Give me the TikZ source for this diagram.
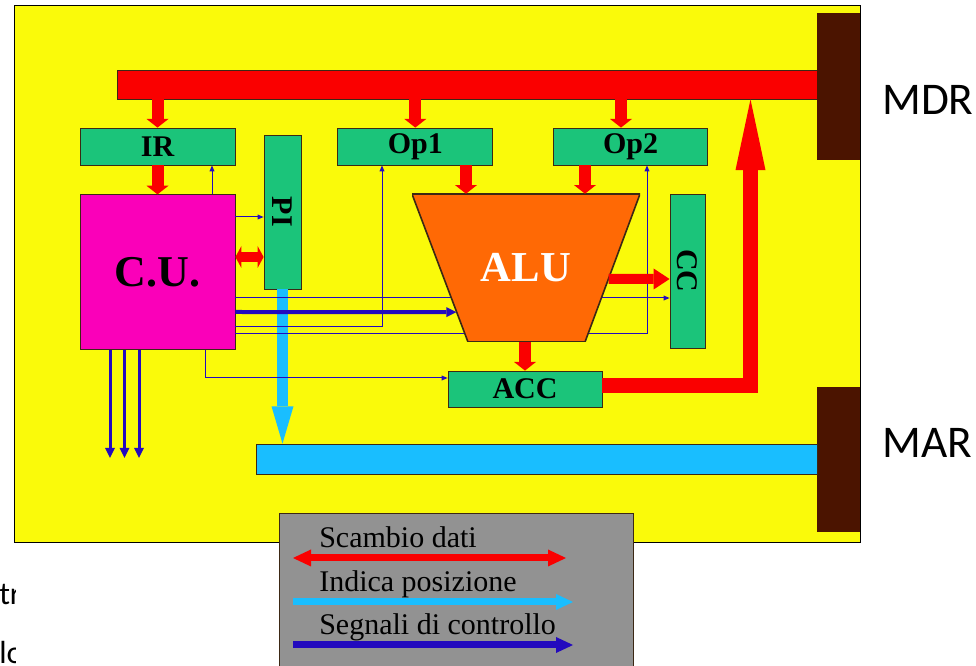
\documentclass[tikz,border=0pt]{standalone}
\usepackage{fontspec}
\setmainfont{Liberation Serif}
\newfontfamily\slidefont{Carlito}
\usetikzlibrary{positioning,arrows.meta,calc}

\definecolor{panelyellow}{RGB}{250,250,10}
\definecolor{busred}{RGB}{250,0,0}
\definecolor{regreen}{RGB}{27,196,122}
\definecolor{cumagenta}{RGB}{250,0,185}
\definecolor{aluorange}{RGB}{255,105,5}
\definecolor{addrcyan}{RGB}{25,190,255}
\definecolor{ctrlblue}{RGB}{35,10,190}
\definecolor{portbrown}{RGB}{75,20,0}
\definecolor{keygray}{RGB}{146,146,146}
\definecolor{edge}{RGB}{60,40,20}

\newcommand{\regfont}{\fontsize{22.5}{26}\selectfont\bfseries}
\newcommand{\keyfont}{\fontsize{22.5}{26}\selectfont}

\begin{document}
\begin{tikzpicture}[x=0.75pt, y=-0.75pt,
% first : the style of the scheme
    reg/.style={
        rectangle,
        draw=edge,
        line width=0.6pt,
        fill=regreen,
        inner sep=0pt,
        font=\regfont
    },
    bus/.style={rectangle, draw=edge, line width=0.6pt, inner sep=0pt},
    port/.style={rectangle, fill=portbrown, inner sep=0pt},
    alu/.style={
        rectangle,
        inner sep=0pt,
        minimum width=171pt,
        minimum height=111pt,
        text=white,
        font=\fontsize{32}{36}\selectfont\bfseries,
        path picture={
            \filldraw[fill=aluorange, draw=edge, line width=1.2pt]
                (path picture bounding box.north west)
                -- (path picture bounding box.north east)
                -- ([xshift=-41.25pt]path picture bounding box.south east)
                -- ([xshift=42pt]path picture bounding box.south west)
                -- cycle;
        }
    },
    load/.style={draw=busred, line width=9pt, -{Triangle[width=16.5pt,length=6.5pt,line width=0pt 0]}},
    swap/.style={draw=busred, line width=7.5pt,
        {Triangle[width=16.5pt,length=4.5pt,line width=0pt 0]}-{Triangle[width=16.5pt,length=4.5pt,line width=0pt 0]}},
    flag/.style={draw=busred, line width=7.5pt, -{Triangle[width=15.75pt,length=12pt,line width=0pt 0]}},
    writeback/.style={draw=busred, line width=11.25pt, -{Triangle[width=22.5pt,length=53pt,line width=0pt 0]}},
    addr/.style={draw=addrcyan, line width=8.25pt, -{Triangle[width=16.5pt,length=28pt,line width=0pt 0]}},
    ctrl/.style={draw=ctrlblue, line width=0.75pt, -{Triangle[width=3.8pt,length=4.5pt,line width=0pt 0]}},
    ctrlbold/.style={draw=ctrlblue, line width=3pt, -{Triangle[width=7.5pt,length=7.5pt,line width=0pt 0]}},
    ctrlout/.style={draw=ctrlblue, line width=2.25pt, -{Triangle[width=7.5pt,length=7.5pt,line width=0pt 0]}},
    keytext/.style={anchor=base west, inner sep=0pt, font=\keyfont},
    keydata/.style={draw=busred, line width=5.25pt,
        {Triangle[width=12.75pt,length=13.5pt,line width=0pt 0]}-{Triangle[width=12.75pt,length=13.5pt,line width=0pt 0]}},
    keyaddr/.style={draw=addrcyan, line width=5.25pt, -{Triangle[width=12pt,length=12.75pt,line width=0pt 0]}},
    keyctrl/.style={draw=ctrlblue, line width=5.25pt, -{Triangle[width=12pt,length=12.75pt,line width=0pt 0]}},
    side/.style={anchor=base west, inner sep=0pt, font=\slidefont\fontsize{34}{40}\selectfont}
]
\useasboundingbox (0,0) rectangle (976,666);
\fill[white] (0,0) rectangle (976,666);

% panel
\draw[fill=panelyellow, line width=0.6pt] (14,5) rectangle (860,542);

% buses and ports
\node[bus, fill=busred, minimum width=525pt, minimum height=21.75pt] (mdrbus) at (467,84.5) {};
\node[port, minimum width=32.25pt, minimum height=110.25pt] (mdr) at (838.5,86.5) {};
\node[port, minimum width=32.25pt, minimum height=108.75pt] (mar) at (838.5,459.5) {};
\node[bus, fill=addrcyan, minimum width=420.75pt, minimum height=22.5pt] (marbus) at (536.5,459) {};
\node[side] (mdrlabel) at (882,115) {MDR};
\node[side] (marlabel) at (882,458) {MAR};

% registers
\node[reg, minimum width=116.25pt, minimum height=27.75pt] (ir) at (157.5,146.5) {IR};
\node[reg, minimum width=116.25pt, minimum height=27.75pt, right=76.5pt of ir] (op1) {Op1};
\node[reg, minimum width=115.5pt, minimum height=27.75pt, right=45pt of op1] (op2) {Op2};
\node[reg, fill=cumagenta, minimum size=116.25pt, font=\fontsize{33}{38}\selectfont\bfseries,
      below=21.75pt of ir] (cu) {C.U.};
\node[reg, minimum width=27.75pt, minimum height=115.5pt] (pi) at (282.5,212) {\rotatebox{-90}{PI}};
\node[reg, minimum width=26.25pt, minimum height=115.5pt] (cc) at (687.5,271) {\rotatebox{-90}{CC}};
\node[reg, minimum width=115.5pt, minimum height=27pt] (acc) at (525,389) {ACC};

% levels of the links
\coordinate (toPI) at (0,217);
\coordinate (swapPI) at (0,257);
\coordinate (flags) at (0,279);
\coordinate (toCC) at (0,298);
\coordinate (toALU) at (0,312);
\coordinate (toOpA) at (0,327);
\coordinate (toOpB) at (0,334);
\coordinate (toACC) at (0,378);
\coordinate (accOut) at (0,385.5);
\coordinate (irCtl) at (212,0);
\coordinate (accCtl) at (205,0);
\coordinate (opACtl) at (382,0);
\coordinate (opBCtl) at (647,0);
\coordinate (opAin) at (466,0);
\coordinate (opBin) at (585,0);
\coordinate (opBload) at (621,0);
\coordinate (riser) at (750.5,0);

% address
\draw[addr] (pi.south) -- (pi.south |- marbus.north);

% control lines behind the ALU
\draw[ctrl] (cu.east |- toCC) -- (cc.west |- toCC);
\draw[ctrl] (cu.east |- toOpB) -| (opBCtl |- op2.south);

\node[alu] (alu) at (526,268) {ALU};

% control lines
\draw[ctrl] (cu.east |- toOpA) -| (opACtl |- op1.south);
\draw[ctrlbold] (cu.east |- toALU) -- ($(alu.north west)!0.797!([xshift=42pt]alu.south west)$);
\draw[ctrl] (irCtl |- cu.north) -- (irCtl |- ir.south);
\draw[ctrl] (cu.east |- toPI) -- (pi.west |- toPI);
\draw[ctrl] (accCtl |- cu.south) |- (acc.west |- toACC);
\foreach \x in {110,124.5,139} {
    \coordinate (out) at (\x,458);
    \draw[ctrlout] (cu.south -| out) -- (out);
}

% data links
\draw[load] (ir.north |- mdrbus.south) -- (ir.north);
\draw[load] (op1.north |- mdrbus.south) -- (op1.north);
\draw[load] (opBload |- mdrbus.south) -- (opBload |- op2.north);
\draw[load] (ir.south) -- (cu.north);
\draw[load] (opAin |- op1.south) -- (opAin |- alu.north);
\draw[load] (opBin |- op2.south) -- (opBin |- alu.north);
\draw[load] (alu.south -| acc.north) -- (acc.north);
\draw[swap] (cu.east |- swapPI) -- (pi.west |- swapPI);
\draw[flag] ($(alu.north east)!0.574!([xshift=-41.25pt]alu.south east)$) -- (cc.west |- flags);
\draw[writeback] (acc.east |- accOut) -| (riser |- mdrbus.south);

% legend
\draw[draw=edge, line width=0.6pt, fill=keygray] (279,513) rectangle (633,680);
\node[keytext] (kdata) at (319,548) {Scambio dati};
\node[keytext] (kaddr) at (319,592) {Indica posizione};
\node[keytext] (kctrl) at (319,635) {Segnali di controllo};
\coordinate (kdataL) at (293,558);
\coordinate (kdataR) at (566,558);
\coordinate (kaddrL) at (293,602);
\coordinate (kaddrR) at (573,602);
\coordinate (kctrlL) at (293,645);
\coordinate (kctrlR) at (573,645);
\draw[keydata] (kdataL) -- (kdataR);
\draw[keyaddr] (kaddrL) -- (kaddrR);
\draw[keyctrl] (kctrlL) -- (kctrlR);

% cut text at the left edge
\begin{scope}
\clip (0,560) rectangle (15,666);
\node[anchor=base west, inner sep=0pt, font=\slidefont\fontsize{24}{28}\selectfont] (cutA) at (-1,605) {tr};
\node[anchor=base west, inner sep=0pt, font=\slidefont\fontsize{24}{28}\selectfont] (cutB) at (-1,664) {lo};
\end{scope}

\end{tikzpicture}
\end{document}
